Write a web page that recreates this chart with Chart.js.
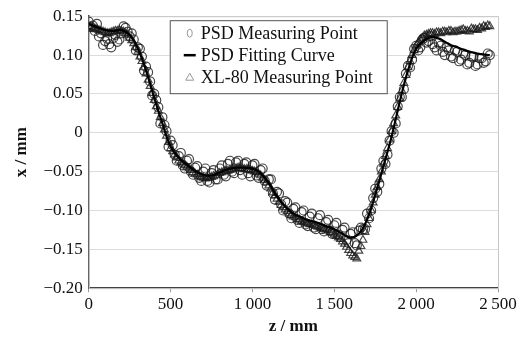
<!DOCTYPE html>
<html>
<head>
<meta charset="utf-8">
<script src="https://cdn.jsdelivr.net/npm/chart.js@4"></script>
<style>
  html, body { margin: 0; padding: 0; background: #fff; }
  #wrap { width: 523px; height: 338px; }
</style>
</head>
<body>
<div id="wrap"><canvas id="posChart" width="523" height="338"></canvas></div>
<script>
// z positions (mm) of the measured points, first pass
const zPts = [0,25,50,75,100,125,150,175,200,225,250,275,300,325,350,375,400,425,450,475,
  500,525,550,575,600,625,650,675,700,725,750,775,800,825,850,875,900,925,950,975,
  1000,1025,1050,1075,1100,1125,1150,1175,1200,1225,1250,1275,1300,1325,1350,1375,1400,1425,1450,1475,
  1500,1525,1550,1575,1600,1625,1650,1675,1700,1725,1750,1775,1800,1825,1850,1875,1900,1925,1950,1975,
  2000,2025,2050,2075,2100,2125,2150,2175,2200,2225,2250,2275,2300,2325,2350,2375,2400,2425,2450];

// second pass, in between
const zPts2 = [12.5,37.5,62.5,87.5,112.5,137.5,162.5,187.5,212.5,237.5,
  262.5,287.5,312.5,337.5,362.5,387.5,412.5,437.5,462.5,487.5,
  512.5,537.5,562.5,587.5,612.5,637.5,662.5,687.5,712.5,737.5,
  762.5,787.5,812.5,837.5,862.5,887.5,912.5,937.5,962.5,987.5,
  1012.5,1037.5,1062.5,1087.5,1112.5,1137.5,1162.5,1187.5,1212.5,1237.5,
  1262.5,1287.5,1312.5,1337.5,1362.5,1387.5,1412.5,1437.5,1462.5,1487.5,
  1512.5,1537.5,1562.5,1587.5,1612.5,1637.5,1662.5,1687.5,1712.5,1737.5,
  1762.5,1787.5,1812.5,1837.5,1862.5,1887.5,1912.5,1937.5,1962.5,1987.5,
  2012.5,2037.5,2062.5,2087.5,2112.5,2137.5,2162.5,2187.5,2212.5,2237.5,
  2262.5,2287.5,2312.5,2337.5,2362.5,2387.5,2412.5,2437.5];

// PSD measuring points (mm)
const psdVals = [0.143,0.138,0.140,0.128,0.118,0.114,0.122,0.117,0.128,0.135,0.124,0.120,0.110,0.098,0.085,0.066,0.050,0.033,0.020,0.002,
  -0.010,-0.028,-0.030,-0.042,-0.036,-0.050,-0.045,-0.058,-0.050,-0.062,-0.052,-0.060,-0.046,-0.054,-0.040,-0.050,-0.038,-0.048,-0.040,-0.052,
  -0.042,-0.055,-0.048,-0.062,-0.060,-0.078,-0.076,-0.092,-0.088,-0.104,-0.098,-0.112,-0.102,-0.118,-0.108,-0.122,-0.110,-0.124,-0.115,-0.126,
  -0.119,-0.131,-0.125,-0.138,-0.130,-0.142,-0.126,-0.124,-0.104,-0.100,-0.072,-0.066,-0.036,-0.028,0.002,0.012,0.046,0.056,0.086,0.094,
  0.112,0.110,0.122,0.118,0.114,0.106,0.112,0.100,0.106,0.096,0.104,0.094,0.100,0.090,0.098,0.088,0.096,0.092,0.100];
const psdVals2 = [0.136,0.131,0.124,0.113,0.121,0.110,0.126,0.120,0.137,0.130,
  0.128,0.106,0.108,0.080,0.078,0.048,0.042,0.012,0.010,-0.018,
  -0.016,-0.036,-0.026,-0.046,-0.034,-0.054,-0.043,-0.062,-0.046,-0.064,
  -0.048,-0.060,-0.042,-0.056,-0.036,-0.052,-0.036,-0.054,-0.038,-0.056,
  -0.040,-0.058,-0.046,-0.068,-0.060,-0.086,-0.078,-0.100,-0.090,-0.110,
  -0.096,-0.116,-0.100,-0.120,-0.104,-0.124,-0.106,-0.127,-0.112,-0.130,
  -0.116,-0.134,-0.122,-0.142,-0.128,-0.145,-0.122,-0.124,-0.110,-0.084,
  -0.076,-0.046,-0.040,-0.010,0.000,0.034,0.046,0.076,0.084,0.108,
  0.106,0.120,0.116,0.124,0.110,0.116,0.104,0.110,0.098,0.106,
  0.092,0.102,0.088,0.098,0.086,0.096,0.090,0.102];

// XL-80 measuring points (mm)
const xlVals = [0.137,0.134,0.133,0.131,0.129,0.128,0.130,0.131,0.131,0.128,0.122,0.115,0.104,0.092,0.076,0.060,0.042,0.028,0.012,-0.004,
  -0.020,-0.028,-0.036,-0.040,-0.044,-0.048,-0.053,-0.056,-0.058,-0.058,-0.057,-0.055,-0.052,-0.050,-0.049,-0.047,-0.046,-0.046,-0.047,-0.047,
  -0.049,-0.051,-0.055,-0.061,-0.068,-0.077,-0.085,-0.093,-0.099,-0.104,-0.108,-0.111,-0.114,-0.116,-0.118,-0.119,-0.121,-0.123,-0.125,-0.128,
  -0.131,-0.135,-0.140,-0.147,-0.155,-0.160,-0.152,-0.138,-0.118,-0.100,-0.080,-0.060,-0.040,-0.020,0.002,0.022,0.044,0.064,0.084,0.100,
  0.112,0.120,0.125,0.127,0.128,0.129,0.128,0.130,0.131,0.129,0.130,0.132,0.131,0.130,0.133,0.132,0.134,0.136,0.137];
const xlVals2 = [0.136,0.134,0.132,0.130,0.128,0.129,0.131,0.132,0.130,0.126,
  0.119,0.110,0.098,0.084,0.068,0.051,0.034,0.020,0.004,-0.012,
  -0.024,-0.032,-0.038,-0.042,-0.046,-0.051,-0.054,-0.057,-0.059,-0.058,
  -0.056,-0.054,-0.051,-0.049,-0.048,-0.046,-0.045,-0.046,-0.047,-0.048,
  -0.050,-0.053,-0.058,-0.064,-0.072,-0.081,-0.089,-0.096,-0.101,-0.106,
  -0.109,-0.112,-0.115,-0.117,-0.118,-0.120,-0.122,-0.124,-0.126,-0.129,
  -0.133,-0.137,-0.143,-0.151,-0.158,-0.162,-0.146,-0.128,-0.110,-0.090,
  -0.070,-0.050,-0.030,-0.009,0.012,0.033,0.054,0.074,0.092,0.106,
  0.116,0.122,0.126,0.128,0.127,0.129,0.130,0.129,0.131,0.130,
  0.131,0.133,0.131,0.134,0.133,0.135,0.137,0.138];

// PSD fitting curve
const zFit = [0,50,100,150,200,250,300,350,400,450,500,550,600,650,700,750,800,850,900,950,
  1000,1050,1100,1150,1200,1250,1300,1350,1400,1450,1500,1550,1600,1650,1700,1750,1800,1850,1900,1950,
  2000,2050,2100,2150,2200,2250,2300,2350,2400,2450];
const fitVals = [0.140,0.136,0.132,0.131,0.132,0.126,0.108,0.080,0.045,0.012,-0.018,-0.032,-0.041,-0.049,-0.054,-0.055,-0.051,-0.047,-0.045,-0.045,
  -0.046,-0.052,-0.065,-0.082,-0.095,-0.104,-0.109,-0.113,-0.116,-0.120,-0.124,-0.130,-0.135,-0.130,-0.112,-0.080,-0.043,-0.005,0.040,0.080,
  0.108,0.119,0.123,0.120,0.114,0.110,0.106,0.103,0.101,0.100];

const xTickLabels = ["0", "500", "1\u2009000", "1\u2009500", "2\u2009000", "2\u2009500"];
const yTickLabels = ["\u22120.20", "\u22120.15", "\u22120.10", "\u22120.05", "0", "0.05", "0.10", "0.15"];

const toXY = (xs, ys) => xs.map((x, i) => ({ x: x, y: ys[i] }));
const serif = "'Liberation Serif', 'Times New Roman', serif";
const markColor = "rgba(25,25,25,0.8)";

// light frame around the plot area (top / right)
const framePlugin = {
  id: "frame",
  beforeDatasetsDraw(chart) {
    const a = chart.chartArea, c = chart.ctx;
    c.save();
    c.strokeStyle = "#c8c8c8";
    c.lineWidth = 1;
    c.strokeRect(a.left + 0.5, a.top + 0.5, a.right - a.left, a.bottom - a.top);
    c.restore();
  }
};

// legend box inside the plot (only the labelled datasets)
const boxLegend = {
  id: "boxLegend",
  afterDraw(chart) {
    const c = chart.ctx, a = chart.chartArea;
    const x0 = a.left + 81, y0 = a.top + 4, w = 217, h = 73;
    c.save();
    c.fillStyle = "#fff";
    c.fillRect(x0, y0, w, h);
    c.strokeStyle = "#555";
    c.lineWidth = 1;
    c.strokeRect(x0 + 0.5, y0 + 0.5, w, h);
    c.font = "18px " + serif;
    c.fillStyle = "#111";
    c.textBaseline = "middle";
    chart.data.datasets.filter(ds => ds.inLegend).forEach((ds, i) => {
      const yy = y0 + 13 + i * 22;
      const mx = x0 + 20;
      c.strokeStyle = "#999";
      c.lineWidth = 1;
      if (ds.pointStyle === "circle") {
        c.beginPath();
        c.ellipse(mx, yy, 2.5, 4, 0, 0, Math.PI * 2);
        c.stroke();
      } else if (ds.pointStyle === "triangle") {
        c.beginPath();
        c.moveTo(mx, yy - 4);
        c.lineTo(mx + 4, yy + 3);
        c.lineTo(mx - 4, yy + 3);
        c.closePath();
        c.stroke();
      } else {
        c.strokeStyle = "#000";
        c.lineWidth = 2.5;
        c.beginPath();
        c.moveTo(mx - 6, yy);
        c.lineTo(mx + 6, yy);
        c.stroke();
      }
      c.fillText(ds.label, x0 + 31, yy + 1);
    });
    c.restore();
  }
};

const pointSet = (label, data, style, order, inLegend) => ({
  label: label,
  data: data,
  pointStyle: style,
  pointRadius: 4.5,
  borderColor: markColor,
  backgroundColor: "rgba(0,0,0,0)",
  borderWidth: 1.2,
  order: order,
  inLegend: inLegend
});

new Chart(document.getElementById("posChart"), {
  type: "scatter",
  data: {
    datasets: [
      pointSet("PSD Measuring Point", toXY(zPts, psdVals), "circle", 2, true),
      {
        label: "PSD Fitting Curve",
        type: "line",
        data: toXY(zFit, fitVals),
        borderColor: "#000",
        borderWidth: 2.2,
        pointRadius: 0,
        tension: 0.4,
        fill: false,
        order: 0,
        inLegend: true
      },
      pointSet("XL-80 Measuring Point", toXY(zPts, xlVals), "triangle", 1, true),
      pointSet("PSD Measuring Point (2)", toXY(zPts2, psdVals2), "circle", 2, false),
      pointSet("XL-80 Measuring Point (2)", toXY(zPts2, xlVals2), "triangle", 1, false)
    ]
  },
  options: {
    responsive: false,
    animation: false,
    layout: { padding: { top: 14, right: 25, left: 11, bottom: 1 } },
    plugins: {
      legend: { display: false },
      tooltip: { enabled: false }
    },
    scales: {
      x: {
        type: "linear",
        min: 0,
        max: 2500,
        ticks: {
          stepSize: 500,
          color: "#111",
          font: { family: serif, size: 17 },
          padding: 2,
          maxRotation: 0,
          callback: (v) => xTickLabels[v / 500]
        },
        grid: { drawOnChartArea: false, drawTicks: true, tickLength: 4, color: "#999" },
        border: { color: "#444", width: 1.5 },
        title: {
          display: true,
          text: "z / mm",
          color: "#111",
          font: { family: serif, size: 17, weight: "bold" },
          padding: { top: 0, bottom: 0 }
        }
      },
      y: {
        min: -0.2,
        max: 0.15,
        ticks: {
          stepSize: 0.05,
          color: "#111",
          font: { family: serif, size: 17 },
          padding: 6,
          callback: (v) => yTickLabels[Math.round((v + 0.2) / 0.05)]
        },
        grid: { color: "#dcdcdc", drawTicks: false },
        border: { color: "#444", width: 1.5 },
        title: {
          display: true,
          text: "x / mm",
          color: "#111",
          font: { family: serif, size: 17, weight: "bold" },
          padding: { top: 0, bottom: 6 }
        }
      }
    }
  },
  plugins: [framePlugin, boxLegend]
});
</script>
</body>
</html>
